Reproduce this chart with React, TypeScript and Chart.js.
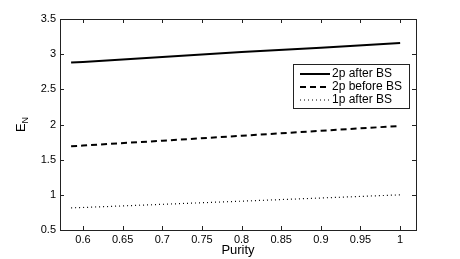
import React, { useEffect, useRef } from "react";
import { Chart, registerables } from "chart.js";
Chart.register(...registerables);

const purity = [0.585, 0.6, 0.7, 0.8, 0.9, 1.0];
const twoPAfterBS = [2.88, 2.89, 2.96, 3.03, 3.09, 3.16];
const twoPBeforeBS = [1.69, 1.7, 1.77, 1.84, 1.91, 1.98];
const onePAfterBS = [0.815, 0.82, 0.865, 0.91, 0.955, 1.0];
const seriesLabels = ["2p after BS", "2p before BS", "1p after BS"];
const xTicks = [0.6, 0.65, 0.7, 0.75, 0.8, 0.85, 0.9, 0.95, 1];
const yTicks = [0.5, 1, 1.5, 2, 2.5, 3, 3.5];
const xTitle = "Purity";

const FONT = "'Liberation Sans', Arial, sans-serif";
const dashes: number[][] = [[], [6, 4], [1, 3]];
const widths = [2, 2, 1.2];

export default function App() {
  const ref = useRef<HTMLCanvasElement>(null);
  useEffect(() => {
    document.body.style.margin = "0";
    const canvas = ref.current!;
    const frame = {
      id: "frame",
      afterDraw(chart: any) {
        const { ctx, chartArea: a, scales } = chart;
        const xs = scales.x, ys = scales.y;
        ctx.save();
        ctx.strokeStyle = "#222";
        ctx.lineWidth = 1;
        ctx.strokeRect(a.left + 0.5, a.top + 0.5, a.right - a.left, a.bottom - a.top);
        const tl = 4;
        ctx.beginPath();
        xTicks.forEach((v) => {
          const px = Math.round(xs.getPixelForValue(v)) + 0.5;
          ctx.moveTo(px, a.bottom); ctx.lineTo(px, a.bottom - tl);
          ctx.moveTo(px, a.top); ctx.lineTo(px, a.top + tl);
        });
        yTicks.forEach((v) => {
          const py = Math.round(ys.getPixelForValue(v)) + 0.5;
          ctx.moveTo(a.left, py); ctx.lineTo(a.left + tl, py);
          ctx.moveTo(a.right, py); ctx.lineTo(a.right - tl, py);
        });
        ctx.stroke();

        // titles
        ctx.fillStyle = "#000";
        ctx.font = `13px ${FONT}`;
        ctx.textAlign = "center";
        ctx.textBaseline = "middle";
        ctx.fillText(xTitle, (a.left + a.right) / 2, 250);

        ctx.save();
        ctx.translate(21, (a.top + a.bottom) / 2);
        ctx.rotate(-Math.PI / 2);
        ctx.textAlign = "left";
        ctx.font = `13px ${FONT}`;
        const we = ctx.measureText("E").width;
        ctx.font = `9px ${FONT}`;
        const wn = ctx.measureText("N").width;
        const x0 = -(we + wn) / 2;
        ctx.font = `13px ${FONT}`;
        ctx.fillText("E", x0, 0);
        ctx.font = `9px ${FONT}`;
        ctx.fillText("N", x0 + we, 5);
        ctx.restore();

        // legend
        const lx = 293, ly = 64, lw = 116, lh = 44;
        ctx.fillStyle = "#fff";
        ctx.fillRect(lx, ly, lw, lh);
        ctx.strokeStyle = "#222";
        ctx.lineWidth = 1;
        ctx.strokeRect(lx + 0.5, ly + 0.5, lw, lh);
        const rows = [74, 87, 100];
        seriesLabels.forEach((lab, i) => {
          ctx.save();
          ctx.strokeStyle = "#000";
          ctx.lineWidth = widths[i];
          ctx.setLineDash(dashes[i]);
          ctx.beginPath();
          ctx.moveTo(300, rows[i]);
          ctx.lineTo(330, rows[i]);
          ctx.stroke();
          ctx.restore();
          ctx.fillStyle = "#000";
          ctx.font = `12px ${FONT}`;
          ctx.textAlign = "left";
          ctx.textBaseline = "middle";
          ctx.fillText(lab, 332, rows[i]);
        });
        ctx.restore();
      },
    };
    const mk = (d: number[], i: number) => ({
      label: seriesLabels[i],
      data: purity.map((x, k) => ({ x, y: d[k] })),
      borderColor: "#000",
      borderWidth: widths[i],
      borderDash: dashes[i],
      pointRadius: 0,
      fill: false,
      tension: 0,
    });
    const chart = new Chart(canvas, {
      type: "line",
      data: { datasets: [mk(twoPAfterBS, 0), mk(twoPBeforeBS, 1), mk(onePAfterBS, 2)] },
      options: {
        animation: false,
        responsive: false,
        layout: { padding: { left: 0, top: 19, right: 44, bottom: 0 } },
        plugins: { legend: { display: false }, tooltip: { enabled: false } },
        scales: {
          x: {
            type: "linear",
            min: 0.571,
            max: 1.02,
            afterBuildTicks: (s: any) => { s.ticks = xTicks.map((v) => ({ value: v })); },
            afterFit: (s: any) => { s.height = 29; },
            grid: { display: false, drawTicks: false, tickLength: 0 },
            border: { display: false },
            ticks: { font: { family: FONT, size: 11 }, color: "#000", padding: 3, maxRotation: 0, autoSkip: false, callback: (v: any) => String(v) },
          },
          y: {
            type: "linear",
            min: 0.5,
            max: 3.5,
            afterBuildTicks: (s: any) => { s.ticks = yTicks.map((v) => ({ value: v })); },
            afterFit: (s: any) => { s.width = 60; },
            grid: { display: false, drawTicks: false, tickLength: 0 },
            border: { display: false },
            ticks: { font: { family: FONT, size: 11 }, color: "#000", padding: 4, autoSkip: false, callback: (v: any) => String(v) },
          },
        },
      },
      plugins: [frame],
    } as any);
    return () => chart.destroy();
  }, []);
  return <canvas ref={ref} width={460} height={259} style={{ display: "block" }} />;
}
